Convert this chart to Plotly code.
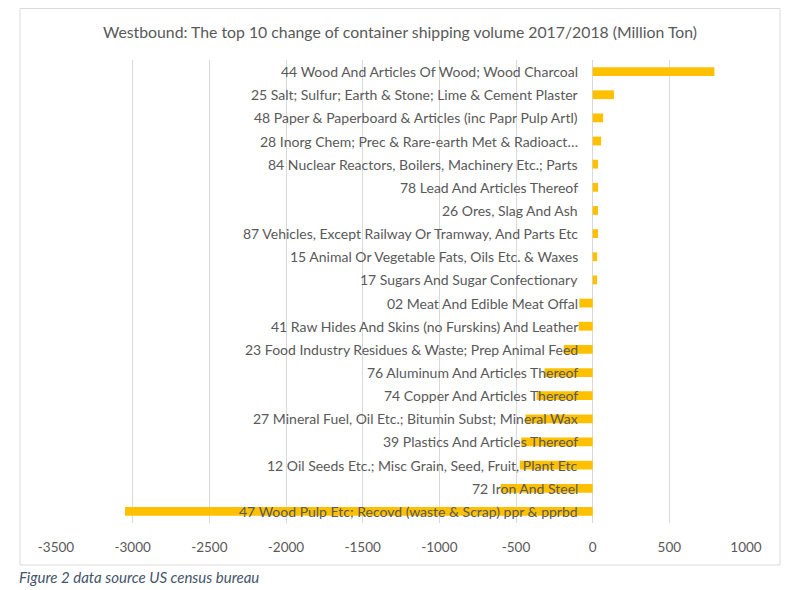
import plotly.graph_objects as go

categories = [
    "44 Wood And Articles Of Wood; Wood Charcoal",
    "25 Salt; Sulfur; Earth & Stone; Lime & Cement Plaster",
    "48 Paper & Paperboard & Articles (inc Papr Pulp Artl)",
    "28 Inorg Chem; Prec & Rare-earth Met & Radioact…",
    "84 Nuclear Reactors, Boilers, Machinery Etc.; Parts",
    "78 Lead And Articles Thereof",
    "26 Ores, Slag And Ash",
    "87 Vehicles, Except Railway Or Tramway, And Parts Etc",
    "15 Animal Or Vegetable Fats, Oils Etc. & Waxes",
    "17 Sugars And Sugar Confectionary",
    "02 Meat And Edible Meat Offal",
    "41 Raw Hides And Skins (no Furskins) And Leather",
    "23 Food Industry Residues & Waste; Prep Animal Feed",
    "76 Aluminum And Articles Thereof",
    "74 Copper And Articles Thereof",
    "27 Mineral Fuel, Oil Etc.; Bitumin Subst; Mineral Wax",
    "39 Plastics And Articles Thereof",
    "12 Oil Seeds Etc.; Misc Grain, Seed, Fruit, Plant Etc",
    "72 Iron And Steel",
    "47 Wood Pulp Etc; Recovd (waste & Scrap) ppr & pprbd",
]
values = [794, 139, 68, 55, 35, 35, 35, 35, 29, 29,
          -87, -91, -189, -314, -366, -438, -466, -475, -600, -3050]

tick_vals = [-3500, -3000, -2500, -2000, -1500, -1000, -500, 0, 500, 1000]
tick_text = [str(v) for v in tick_vals]

title_text = "Westbound: The top 10 change of container shipping volume 2017/2018 (Million Ton)"
caption_text = "Figure 2 data source US census bureau"

FONT = "Lato"
GREY = "#595959"

# page body has an 8px margin; work in figure pixels = screen pixels - 8
OFF = 8
W, H = 792, 582
ml, mt = 56 - OFF, 60 - OFF
pw, ph = 690, 463
mr, mb = W - ml - pw, H - mt - ph


def px2paper_x(px):
    return (px - OFF - ml) / pw


def px2paper_y(py):
    return (mt + ph - (py - OFF)) / ph


fig = go.Figure()
fig.add_trace(go.Bar(
    x=values, y=categories, orientation="h",
    marker=dict(color="#FFC000", line=dict(width=0)),
    width=0.38, hoverinfo="x+y",
))

annotations = [
    dict(x=0, y=c, xref="x", yref="y", text=c, showarrow=False,
         xanchor="right", yanchor="middle", xshift=-13,
         font=dict(family=FONT, size=14, color=GREY))
    for c in categories
]
annotations.append(dict(
    x=px2paper_x(17), y=px2paper_y(577), xref="paper", yref="paper",
    text="<i>" + caption_text + "</i>", showarrow=False,
    xanchor="left", yanchor="middle",
    font=dict(family=FONT, size=15, color="#44546A"),
))

fig.update_layout(
    width=W, height=H, autosize=False,
    margin=dict(l=ml, r=mr, t=mt, b=mb),
    paper_bgcolor="white", plot_bgcolor="white",
    showlegend=False,
    title=dict(text=title_text, x=0.5 - 4 / W, xanchor="center",
               y=1 - (32 - OFF) / H, yanchor="middle", yref="container",
               font=dict(family=FONT, size=15.8, color=GREY)),
    annotations=annotations,
    shapes=[dict(type="rect", xref="paper", yref="paper",
                 x0=px2paper_x(20), x1=px2paper_x(780),
                 y0=px2paper_y(565), y1=px2paper_y(8.5),
                 line=dict(color="#D9D9D9", width=1), layer="below")],
    bargap=0.6,
)
fig.update_xaxes(
    range=[-3500, 1000], tickvals=tick_vals, ticktext=tick_text,
    showgrid=True, gridcolor="#D9D9D9", gridwidth=1,
    zeroline=True, zerolinecolor="#D9D9D9", zerolinewidth=1,
    showline=False, ticks="outside", ticklen=12, tickcolor="rgba(0,0,0,0)",
    tickfont=dict(family=FONT, size=13.5, color=GREY),
    fixedrange=True,
)
fig.update_yaxes(
    autorange="reversed", showticklabels=False, showgrid=False,
    zeroline=False, showline=False, ticks="",
)

fig.write_html("out.html")
